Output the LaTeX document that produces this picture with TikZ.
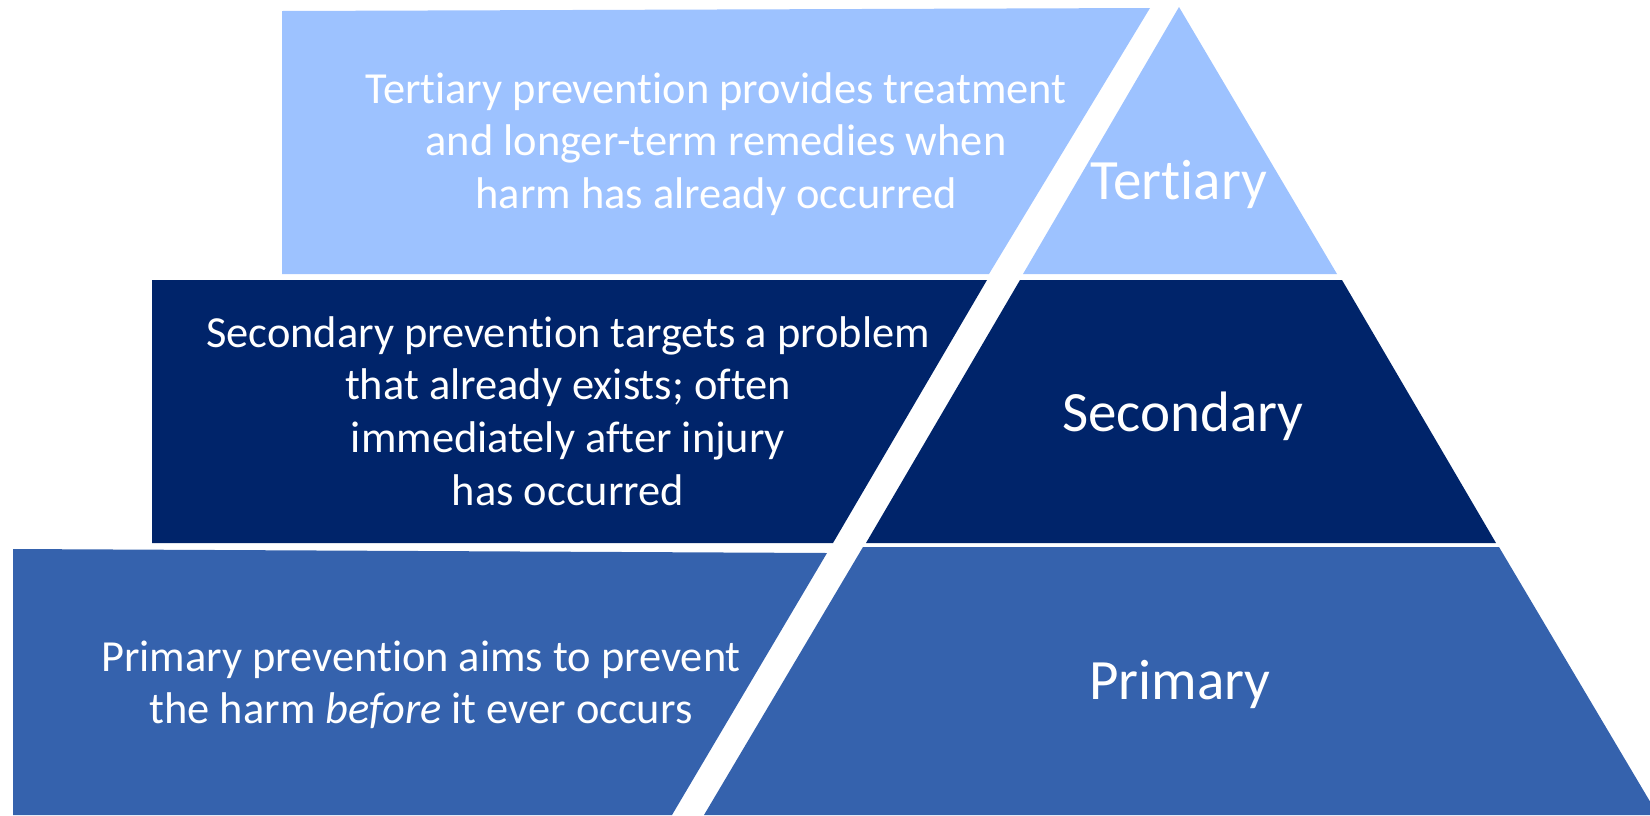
\documentclass[tikz,border=0pt]{standalone}
\usepackage{fontspec}
\setmainfont{Carlito}[Ligatures={NoCommon}]
\usepackage{tikz}
\usetikzlibrary{positioning}

\definecolor{tertblue}{RGB}{157,194,255}
\definecolor{secblue}{RGB}{0,36,106}
\definecolor{primblue}{RGB}{53,98,173}

\begin{document}
\begin{tikzpicture}[x=0.5pt,y=-0.5pt]
        \useasboundingbox (0,0) rectangle (1650,815);
        % tiers
        \fill[tertblue] (282,11) -- (1150,8) -- (989,274) -- (282,274) -- cycle;
        \fill[tertblue] (1179,7) -- (1337,274) -- (1023,274) -- cycle;
        \fill[secblue] (152,280) -- (987,280) -- (833,543) -- (152,543) -- cycle;
        \fill[secblue] (1020,280) -- (1342,280) -- (1496,543) -- (866,543) -- cycle;
        \fill[primblue] (13,549) -- (827,553) -- (672,815) -- (13,815) -- cycle;
        \fill[primblue] (863,547) -- (1499,547) -- (1658,815) -- (704,815) -- cycle;
        \begin{scope}[every node/.style={text=white,align=center,inner sep=0pt,
            font=\fontsize{22.2}{26.3}\selectfont}]
            \node (tertdesc) at (716,144) {Tertiary prevention provides treatment\\and longer-term remedies when\\harm has already occurred};
            \node (secdesc) at (568,411) {Secondary prevention targets a problem\\that already exists; often\\immediately after injury\\has occurred};
            \node (primdesc) at (421,685) {Primary prevention aims to prevent\\the harm \textit{before} it ever occurs};
        \end{scope}
        \begin{scope}[every node/.style={text=white,inner sep=0pt,
            font=\fontsize{28.5}{34}\selectfont}]
            \node (tert) at (1179,184) {Tertiary};
            \node (sec) at (1183,416) {Secondary};
            \node (prim) at (1180,684) {Primary};
        \end{scope}
    \end{tikzpicture}
\end{document}
